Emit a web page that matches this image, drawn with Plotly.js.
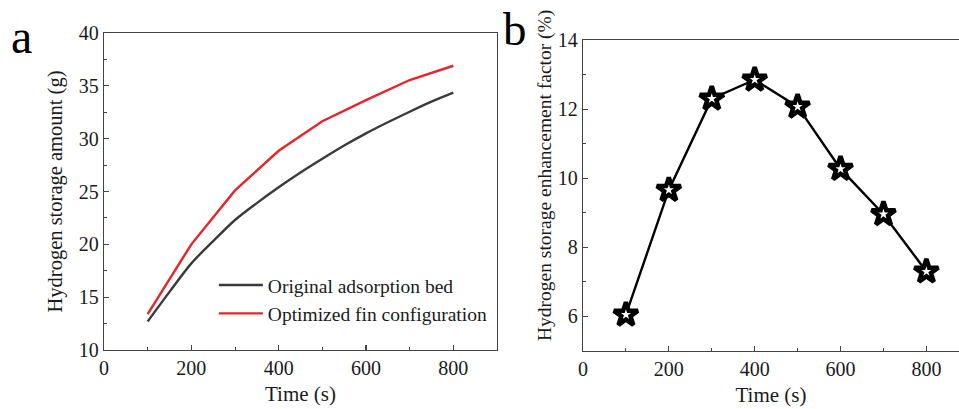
<!DOCTYPE html>
<html>
<head>
<meta charset="utf-8">
<script src="https://cdn.plot.ly/plotly-3.0.1.min.js"></script>
<style>html,body{margin:0;padding:0;background:#fff;overflow:hidden;}#chart{width:959px;height:409px;}</style>
</head>
<body>
<div id="chart"></div>
<script>
// Panel a data
const timeOriginal = [100, 150, 200, 250, 300, 350, 400, 450, 500, 550, 600, 650, 700, 750, 800];
const originalBed = [12.7, 15.5, 18.2, 20.3, 22.3, 23.9, 25.4, 26.8, 28.1, 29.35, 30.5, 31.55, 32.55, 33.5, 34.35];
const timeOptimized = [100, 200, 300, 400, 500, 600, 700, 800];
const optimizedFin = [13.4, 20.0, 25.1, 28.85, 31.65, 33.65, 35.55, 36.9];
// Panel b data
const timeB = [100, 200, 300, 400, 500, 600, 700, 800];
const enhancementFactor = [6.05, 9.66, 12.3, 12.85, 12.07, 10.27, 8.96, 7.3];

const seriesNames = ['Original adsorption bed', 'Optimized fin configuration'];
const xTitle = 'Time (s)';
const yTitleA = 'Hydrogen storage amount (g)';
const yTitleB = 'Hydrogen storage enhancement factor (%)';

const FONT = '"Liberation Serif", "Times New Roman", serif';
const AX = '#444';
const TXT = '#1a1a1a';

const traces = [
  {x: timeOriginal, y: originalBed, name: seriesNames[0], type: 'scatter', mode: 'lines',
   line: {color: '#3a3a3a', width: 2.4, shape: 'spline', smoothing: 0.8}, xaxis: 'x', yaxis: 'y'},
  {x: timeOptimized, y: optimizedFin, name: seriesNames[1], type: 'scatter', mode: 'lines',
   line: {color: '#e8242a', width: 2.4}, xaxis: 'x', yaxis: 'y'},
  {x: timeB, y: enhancementFactor, name: 'Enhancement factor', type: 'scatter', mode: 'lines+markers',
   line: {color: '#000', width: 2.4},
   marker: {symbol: 'star', size: 18, color: '#fff', line: {color: '#000', width: 4.5}},
   showlegend: false, xaxis: 'x2', yaxis: 'y2'}
];

const axCommon = {
  showline: true, linecolor: AX, linewidth: 1.3, mirror: true,
  ticks: 'inside', ticklen: 5, tickwidth: 1.2, tickcolor: AX,
  showgrid: false, zeroline: false,
  tickfont: {family: FONT, size: 20, color: TXT},
  minor: {ticks: 'inside', ticklen: 3, tickwidth: 1, tickcolor: AX}
};

const layout = {
  width: 959, height: 409,
  margin: {l: 0, r: 0, t: 0, b: 0},
  paper_bgcolor: '#fff', plot_bgcolor: '#fff',
  font: {family: FONT, color: TXT},
  showlegend: true,
  legend: {x: 0.223, y: 0.35, xanchor: 'left', yanchor: 'top', bgcolor: 'rgba(0,0,0,0)',
           font: {family: FONT, size: 19.5, color: TXT}, itemwidth: 44, tracegroupgap: 0},
  xaxis: Object.assign({}, axCommon, {domain: [104/959, 497/959], range: [0, 900],
    tickvals: [0, 200, 400, 600, 800], minor: Object.assign({}, axCommon.minor, {dtick: 100, tick0: 0}),
    title: {text: xTitle, font: {family: FONT, size: 21, color: TXT}, standoff: 8}, anchor: 'y'}),
  yaxis: Object.assign({}, axCommon, {domain: [1 - 350/409, 1 - 33/409], range: [10, 40],
    dtick: 5, tick0: 10, minor: Object.assign({}, axCommon.minor, {dtick: 2.5, tick0: 10}),
    title: {text: yTitleA, font: {family: FONT, size: 20.5, color: TXT}, standoff: 10}, anchor: 'x'}),
  xaxis2: Object.assign({}, axCommon, {domain: [583/959, 1], range: [0, 876],
    tickvals: [0, 200, 400, 600, 800], minor: Object.assign({}, axCommon.minor, {dtick: 100, tick0: 0}),
    title: {text: xTitle, font: {family: FONT, size: 21, color: TXT}, standoff: 8}, anchor: 'y2'}),
  yaxis2: Object.assign({}, axCommon, {domain: [1 - 351/409, 1 - 40/409], range: [5, 14],
    tickvals: [6, 8, 10, 12, 14], minor: Object.assign({}, axCommon.minor, {dtick: 1, tick0: 5}),
    anchor: 'x2'}),
  annotations: [
    {text: yTitleB, xref: 'paper', yref: 'paper', x: 545/959, y: 1 - 176/409, xanchor: 'center', yanchor: 'middle',
     textangle: -90, showarrow: false, font: {family: FONT, size: 19.5, color: TXT}},
    {text: 'a', xref: 'paper', yref: 'paper', x: 9/959, y: 1 - 8/409, xanchor: 'left', yanchor: 'top',
     showarrow: false, font: {family: FONT, size: 48, color: '#000'}},
    {text: 'b', xref: 'paper', yref: 'paper', x: 501/959, y: 1 - 1/409, xanchor: 'left', yanchor: 'top',
     showarrow: false, font: {family: FONT, size: 47, color: '#000'}}
  ]
};

Plotly.newPlot('chart', traces, layout, {displayModeBar: false, staticPlot: true});
</script>
</body>
</html>
